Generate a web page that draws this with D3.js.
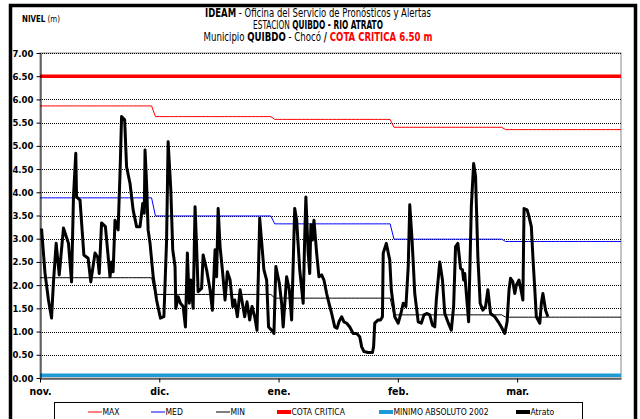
<!DOCTYPE html>
<html>
<head>
<meta charset="utf-8">
<script src="https://cdn.jsdelivr.net/npm/d3@7"></script>
<style>
  body { margin: 0; background: #fff; }
  svg { display: block; }
  text { font-family: "Liberation Sans Narrow", "Arial Narrow", "DejaVu Sans Condensed", sans-serif; }
</style>
</head>
<body>
<svg id="chart" width="640" height="419"></svg>
<script>
// Temporada nov. 2011 - mar. 2012, estación Quibdó (río Atrato)
const inicio = Date.UTC(2011, 10, 1);
const meses = ["nov.", "dic.", "ene.", "feb.", "mar."];
const diasMes = [30, 31, 31, 29, 31];

// Niveles históricos mensuales (m)
const nivelMax = [5.86, 5.63, 5.57, 5.40, 5.35];
const nivelMed = [3.88, 3.49, 3.32, 2.99, 2.94];
const nivelMin = [2.16, 1.80, 1.72, 1.36, 1.31];
const cotaCritica = 6.50;
const minimoAbsoluto2002 = 0.06;

// Lecturas del río Atrato: días desde el 1 de noviembre y nivel (m)
const diaLectura = [
  0.4, 1.3, 2.2, 3.0, 3.5, 4.2, 5.0, 6.1, 7.4, 8.2,
  8.7, 9.3, 9.5, 10.4, 11.4, 12.5, 13.2, 14.3, 15.0, 15.4,
  16.0, 17.0, 18.2, 18.6, 19.0, 19.5, 20.3, 20.8, 21.2, 22.0,
  22.5, 23.4, 24.2, 25.1, 26.0, 26.7, 27.1, 27.3, 27.7, 28.1,
  28.6, 29.4, 30.3, 31.3, 32.2, 32.9, 33.3, 34.0, 34.5, 35.1,
  35.3, 35.9, 36.5, 37.2, 37.8, 38.3, 38.8, 39.2, 39.8, 40.3,
  40.7, 41.1, 42.0, 42.4, 43.3, 44.2, 44.8, 45.5, 45.9, 46.3,
  46.8, 47.4, 48.1, 48.7, 49.4, 50.1, 50.6, 51.3, 52.0, 52.6,
  53.2, 53.8, 54.5, 55.1, 55.8, 56.4, 57.1, 58.2, 58.9, 59.4,
  60.2, 60.8, 61.3, 62.2, 62.8, 63.2, 64.1, 64.8, 65.4, 66.2,
  66.7, 67.5, 68.4, 68.8, 69.1, 69.7, 70.1, 70.4, 70.8, 71.2,
  71.9, 72.5, 73.2, 73.8, 74.5, 75.1, 75.8, 76.6, 77.2, 77.7,
  78.4, 79.0, 79.7, 80.5, 81.4, 82.3, 83.1, 83.6, 84.2, 85.3,
  86.4, 86.7, 87.0, 87.9, 88.5, 89.0, 89.2, 90.0, 90.9, 91.3,
  92.2, 93.1, 93.8, 94.4, 95.1, 95.7, 96.1, 96.7, 97.4, 98.3,
  99.1, 99.8, 100.6, 101.3, 102.0, 102.6, 103.0, 103.9, 104.6, 105.2,
  106.0, 106.9, 107.5, 108.0, 108.6, 109.3, 109.8, 110.1, 110.4, 110.8,
  111.4, 112.1, 112.7, 113.2, 113.8, 114.4, 115.1, 115.8, 116.4, 117.1,
  118.2, 119.1, 119.9, 120.8, 121.4, 121.9, 122.3, 122.9, 123.4, 123.8,
  124.5, 125.1, 125.5, 125.8, 126.6, 127.1, 127.7, 128.1, 128.6, 129.0,
  129.9, 130.3, 130.7, 131.4, 132.0
];
const nivelAtrato = [
  3.22, 2.26, 1.68, 1.29, 2.07, 2.90, 2.22, 3.23, 2.90, 2.07,
  3.90, 4.84, 3.90, 3.83, 2.65, 2.58, 2.07, 2.69, 2.60, 2.25,
  3.34, 3.26, 2.18, 2.50, 2.29, 3.40, 3.19, 4.41, 5.63, 5.56,
  4.55, 4.19, 3.62, 3.26, 3.26, 3.76, 3.55, 4.91, 4.19, 3.19,
  2.90, 2.20, 1.68, 1.29, 1.32, 2.97, 5.09, 4.05, 2.76, 2.40,
  1.50, 1.75, 1.61, 1.54, 1.10, 2.69, 1.61, 2.11, 1.50, 3.69,
  2.83, 1.86, 1.93, 2.65, 2.33, 1.90, 1.46, 2.76, 2.18, 3.65,
  2.83, 2.33, 1.68, 2.29, 2.11, 1.54, 1.68, 1.32, 1.90, 1.61,
  1.32, 1.64, 1.25, 1.54, 1.32, 1.03, 3.44, 2.33, 2.11, 1.10,
  1.03, 0.96, 2.40, 2.04, 1.61, 1.10, 2.18, 1.90, 1.25, 3.65,
  3.40, 2.33, 1.61, 3.04, 3.90, 2.69, 2.25, 3.30, 2.97, 3.40,
  2.69, 2.18, 2.22, 2.11, 1.82, 1.61, 1.39, 1.10, 1.07, 1.21,
  1.32, 1.21, 1.18, 1.10, 0.96, 0.96, 0.89, 0.67, 0.57, 0.55,
  0.55, 0.67, 1.18, 1.25, 1.25, 1.32, 2.69, 2.90, 2.54, 1.90,
  1.32, 1.18, 1.39, 1.61, 1.54, 2.40, 3.73, 2.97, 1.82, 1.21,
  1.18, 1.36, 1.39, 1.36, 1.14, 1.10, 1.68, 2.50, 2.11, 1.39,
  1.21, 1.03, 1.54, 2.83, 2.90, 2.36, 2.33, 2.11, 2.25, 1.82,
  1.21, 3.69, 4.62, 4.34, 2.61, 1.61, 1.46, 1.54, 1.90, 1.39,
  1.32, 1.21, 1.10, 0.96, 1.21, 1.90, 2.15, 2.07, 1.82, 2.00,
  2.11, 1.86, 1.68, 3.65, 3.62, 3.47, 3.26, 2.61, 1.90, 1.32,
  1.18, 1.61, 1.82, 1.46, 1.32
];

// Marcas del eje cada 31 días desde el inicio y niveles del eje vertical
const marcasDias = [0, 31, 62, 93, 124];
const nivelesEje = d3.range(0, 7.01, 0.5);

const fecha = d => new Date(inicio + d * 864e5);
const totalDias = d3.sum(diasMes) - 1;

// Serie diaria de los niveles históricos a partir de los valores mensuales
function serieMensual(valores) {
  const out = [];
  let d = 0;
  diasMes.forEach((n, i) => {
    for (let k = 0; k < n; k++) out.push({ t: fecha(d++), v: valores[i] });
  });
  return out;
}

const svg = d3.select("#chart");
const areaIzq = 40, areaDer = 621, areaSup = 53, areaInf = 378;

const x = d3.scaleUtc().domain([fecha(0), fecha(totalDias)]).range([areaIzq, areaDer]);
const y = d3.scaleLinear().domain([0, 7]).range([areaInf, areaSup]);

// Marco exterior
svg.append("rect")
  .attr("x", 10.5).attr("y", 5.5).attr("width", 625).attr("height", 460)
  .attr("fill", "none").attr("stroke", "#000").attr("stroke-width", 3.5);

// Área del gráfico
svg.append("rect")
  .attr("x", areaIzq).attr("y", areaSup).attr("width", areaDer - areaIzq).attr("height", areaInf - areaSup)
  .attr("fill", "#fff").attr("stroke", "#888").attr("stroke-width", 1);

// Líneas de cuadrícula punteadas
svg.append("g")
  .selectAll("line")
  .data(nivelesEje.filter(v => v > 0))
  .join("line")
  .attr("x1", areaIzq).attr("x2", areaDer)
  .attr("y1", d => Math.round(y(d)) + 0.5).attr("y2", d => Math.round(y(d)) + 0.5)
  .attr("stroke", "#000").attr("stroke-width", 1).attr("stroke-dasharray", "1,1");

const linea = d3.line().x(d => x(d.t)).y(d => y(d.v));

function trazo(datos, color, ancho) {
  svg.append("path")
    .datum(datos)
    .attr("d", linea)
    .attr("fill", "none")
    .attr("stroke", color)
    .attr("stroke-width", ancho)
    .attr("stroke-linejoin", "round")
    .attr("stroke-linecap", "butt");
}

trazo(serieMensual(nivelMax), "#ff0000", 1);
trazo(serieMensual(nivelMed), "#0000ff", 1);
trazo(serieMensual(nivelMin), "#000000", 1);
trazo([{ t: fecha(0), v: cotaCritica }, { t: fecha(totalDias), v: cotaCritica }], "#ff0000", 3.5);
trazo([{ t: fecha(0), v: minimoAbsoluto2002 }, { t: fecha(totalDias), v: minimoAbsoluto2002 }], "#1e9ad6", 3.5);
trazo(diaLectura.map((d, i) => ({ t: fecha(d), v: nivelAtrato[i] })), "#000000", 3);

const fuente = "'Liberation Sans Narrow','Arial Narrow','DejaVu Sans Condensed',sans-serif";
const fuenteTitulo = "'Liberation Sans',Arial,sans-serif";

// Eje vertical
const ejeY = svg.append("g")
  .attr("transform", `translate(${areaIzq + 0.5},0)`)
  .call(d3.axisLeft(y).tickValues(nivelesEje).tickSize(4).tickSizeOuter(0).tickFormat(d3.format(".2f")));
ejeY.select(".domain").attr("stroke", "#000");
ejeY.selectAll("text").attr("font-size", 9.5).attr("font-weight", "bold").attr("fill", "#000")
  .attr("font-family", fuente);

// Eje horizontal
const ejeX = svg.append("g")
  .attr("transform", `translate(0,${areaInf + 0.5})`)
  .call(d3.axisBottom(x).tickValues(marcasDias.map(fecha)).tickSize(4).tickSizeOuter(0)
    .tickFormat((d, i) => meses[i]));
ejeX.select(".domain").attr("stroke", "#000");
ejeX.selectAll("text").attr("font-size", 10.5).attr("font-weight", "bold").attr("fill", "#000").attr("dy", "0.95em")
  .attr("font-family", fuente);

// Texto condensado: se escala horizontalmente hasta el ancho indicado
function textoCondensado(px, py, ancho, ancla, tam, partes) {
  const g = svg.append("g");
  const t = g.append("text").attr("x", 0).attr("y", 0).attr("text-anchor", ancla)
    .attr("font-size", tam).attr("font-family", fuenteTitulo);
  t.selectAll("tspan").data(partes).join("tspan")
    .attr("font-weight", d => d[1] ? "bold" : "normal")
    .attr("fill", d => d[2] || "#000")
    .text(d => d[0]);
  const k = ancho / t.node().getComputedTextLength();
  g.attr("transform", `translate(${px},${py}) scale(${k},1)`);
}

// Títulos
textoCondensado(22, 22, 38, "start", 9, [["NIVEL", true], [" (m)", false]]);
const cx = 318;
textoCondensado(cx, 17, 226, "middle", 11.5, [["IDEAM", true], [" - Oficina del Servicio de Pronósticos y Alertas", false]]);
textoCondensado(cx, 29, 130, "middle", 11.5, [["ESTACION ", false], ["QUIBDO - RIO ATRATO", true]]);
textoCondensado(cx, 41, 229, "middle", 11.5, [["Municipio ", false], ["QUIBDO", true], [" - Chocó ", false], [" / ", true], [" COTA CRITICA 6.50 m", true, "#ff0000"]]);

// Leyenda
const leyenda = [
  { nombre: "MAX", color: "#ff0000", ancho: 1, x: 88 },
  { nombre: "MED", color: "#0000ff", ancho: 1, x: 151 },
  { nombre: "MIN", color: "#000000", ancho: 1, x: 216 },
  { nombre: "COTA CRITICA", color: "#ff0000", ancho: 4, x: 277 },
  { nombre: "MINIMO ABSOLUTO 2002", color: "#1e9ad6", ancho: 4, x: 379 },
  { nombre: "Atrato", color: "#000000", ancho: 4, x: 516 }
];
svg.append("rect").attr("x", 54.5).attr("y", 402.5).attr("width", 528).attr("height", 40)
  .attr("fill", "#fff").attr("stroke", "#000").attr("stroke-width", 1);
const items = svg.append("g").selectAll("g").data(leyenda).join("g")
  .attr("transform", d => `translate(${d.x},412)`);
items.append("line").attr("x1", 0).attr("x2", 14).attr("y1", 0).attr("y2", 0)
  .attr("stroke", d => d.color).attr("stroke-width", d => d.ancho);
items.append("text").attr("x", 14.5).attr("y", 3.2).attr("font-size", 8.5).text(d => d.nombre);
</script>
</body>
</html>
